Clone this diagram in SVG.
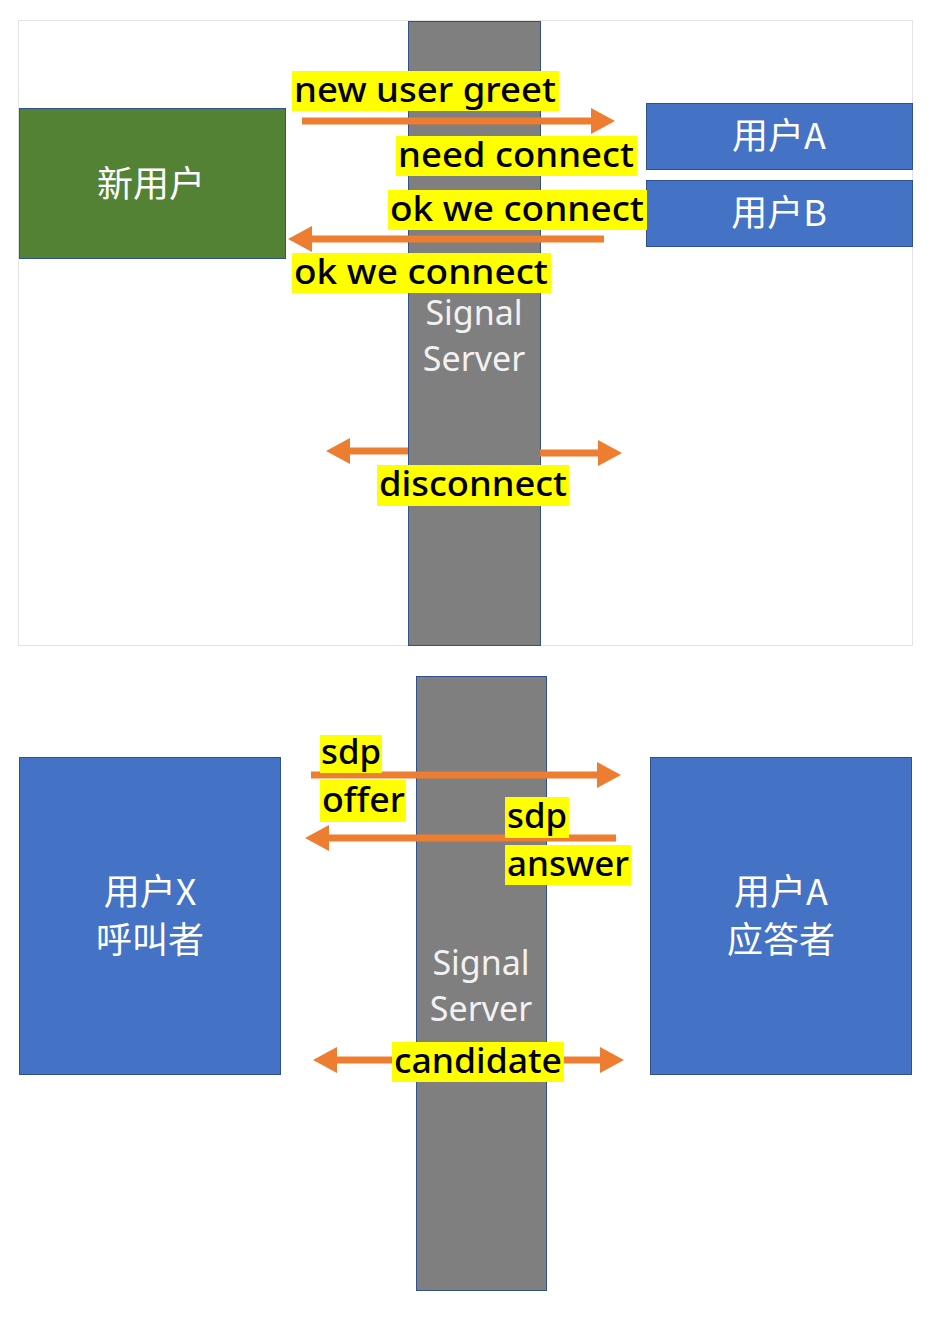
<svg xmlns="http://www.w3.org/2000/svg" width="943" height="1320" viewBox="0 0 943 1320">
<defs>
<marker id="ah" markerUnits="userSpaceOnUse" markerWidth="26" markerHeight="28" refX="0" refY="13" orient="auto-start-reverse">
<path d="M0,0 L24,13 L0,26 Z" fill="#ED7D31"/>
</marker>
<style>
.bar{fill:#7F7F7F;stroke:#2F528F;stroke-width:1}
.blue{fill:#4472C4;stroke:#2F528F;stroke-width:1}
.green{fill:#548235;stroke:#2F528F;stroke-width:1}
.wt{fill:#FFFFFF;font-family:"Noto Sans CJK SC","Noto Sans",sans-serif;font-size:36px;text-anchor:middle}
.st{fill:#F2F2F2;font-family:"Noto Sans","Noto Sans CJK SC",sans-serif;font-size:34px;text-anchor:middle}
.hl{fill:#FFFF00}
.lb{fill:#000000;font-family:"Noto Sans","Noto Sans CJK SC",sans-serif;font-size:34px;font-weight:500}
.ar{stroke:#ED7D31;stroke-width:7;fill:none}
</style>
</defs>
<rect x="18.5" y="20.5" width="894" height="625" fill="#FFFFFF" stroke="#E3E3E3" stroke-width="1"/>

<g id="server-top"><rect class="bar" x="408.5" y="21.5" width="132" height="624"/>
<text class="st" x="474" y="325">Signal</text><text class="st" x="474" y="371">Server</text></g>
<g id="new-user"><rect class="green" x="19.5" y="108.5" width="266" height="150"/><text class="wt" x="151" y="197">新用户</text></g>
<g id="user-a-top"><rect class="blue" x="646.5" y="103.5" width="266" height="66"/><text class="wt" x="779" y="149">用户A</text></g>
<g id="user-b-top"><rect class="blue" x="646.5" y="180.5" width="266" height="66"/><text class="wt" x="779" y="226">用户B</text></g>

<g id="server-bottom"><rect class="bar" x="416.5" y="676.5" width="130" height="614"/>
<text class="st" x="481" y="975">Signal</text><text class="st" x="481" y="1021">Server</text></g>
<g id="user-x"><rect class="blue" x="19.5" y="757.5" width="261" height="317"/><text class="wt" x="150" y="905">用户X</text><text class="wt" x="150" y="953">呼叫者</text></g>
<g id="user-a-bottom"><rect class="blue" x="650.5" y="757.5" width="261" height="317"/><text class="wt" x="781" y="905">用户A</text><text class="wt" x="781" y="953">应答者</text></g>

<g id="connectors">
<line class="ar" x1="302" y1="121" x2="591" y2="121" marker-end="url(#ah)"/>
<line class="ar" x1="604" y1="239" x2="312" y2="239" marker-end="url(#ah)"/>
<line class="ar" x1="408" y1="451" x2="350" y2="451" marker-end="url(#ah)"/>
<line class="ar" x1="540" y1="453" x2="598" y2="453" marker-end="url(#ah)"/>
<line class="ar" x1="311" y1="775" x2="597" y2="775" marker-end="url(#ah)"/>
<line class="ar" x1="616" y1="838" x2="329" y2="838" marker-end="url(#ah)"/>
<line class="ar" x1="337" y1="1060" x2="600" y2="1060" marker-start="url(#ah)" marker-end="url(#ah)"/>
</g>

<g id="labels">
<rect class="hl" x="292" y="71" width="267" height="40"/><text class="lb" x="294" y="102" textLength="262" lengthAdjust="spacingAndGlyphs">new user greet</text>
<rect class="hl" x="396" y="136" width="241" height="40"/><text class="lb" x="398" y="167" textLength="236" lengthAdjust="spacingAndGlyphs">need connect</text>
<rect class="hl" x="388" y="190" width="259" height="40"/><text class="lb" x="390" y="221" textLength="254" lengthAdjust="spacingAndGlyphs">ok we connect</text>
<rect class="hl" x="292" y="253" width="259" height="40"/><text class="lb" x="294" y="284" textLength="254" lengthAdjust="spacingAndGlyphs">ok we connect</text>
<rect class="hl" x="377" y="465" width="192" height="41"/><text class="lb" x="379" y="496" textLength="188" lengthAdjust="spacingAndGlyphs">disconnect</text>
<rect class="hl" x="320" y="735" width="62" height="38"/><text class="lb" x="321" y="764" textLength="60" lengthAdjust="spacingAndGlyphs">sdp</text>
<rect class="hl" x="320" y="780" width="86" height="42"/><text class="lb" x="322" y="812" textLength="83" lengthAdjust="spacingAndGlyphs">offer</text>
<rect class="hl" x="505" y="797" width="64" height="41"/><text class="lb" x="507" y="828" textLength="60" lengthAdjust="spacingAndGlyphs">sdp</text>
<rect class="hl" x="505" y="845" width="126" height="40"/><text class="lb" x="507" y="876" textLength="122" lengthAdjust="spacingAndGlyphs">answer</text>
<rect class="hl" x="392" y="1042" width="172" height="40"/><text class="lb" x="394" y="1073" textLength="168" lengthAdjust="spacingAndGlyphs">candidate</text>
</g>
</svg>
